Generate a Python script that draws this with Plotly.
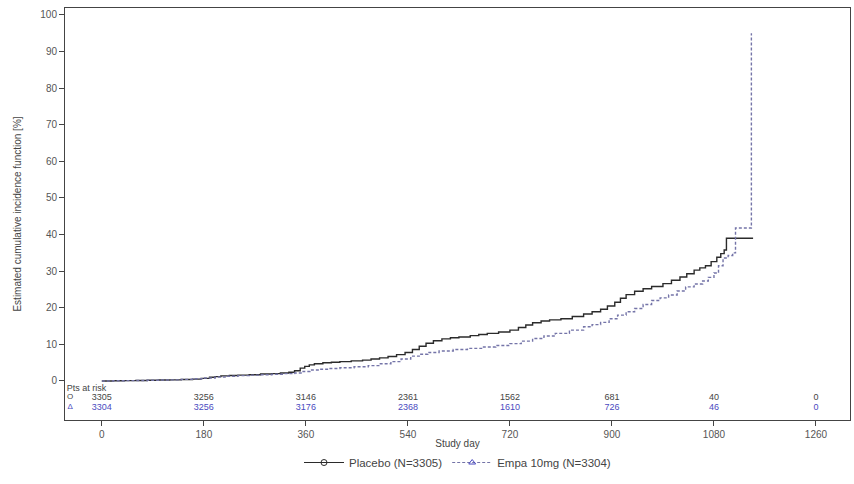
import plotly.graph_objects as go

# Placebo step curve (study day, cumulative incidence %)
placebo_day = [0, 20, 40, 60, 80, 100, 120, 140, 160, 175, 190, 200, 210, 225, 240, 260, 280, 300, 315, 330,
               340, 350, 358, 366, 375, 390, 405, 420, 440, 460, 475, 490, 505, 520, 535, 548, 560, 572, 585,
               600, 615, 630, 650, 665, 680, 700, 720, 735, 748, 760, 775, 790, 810, 830, 850, 865, 880, 892,
               905, 915, 925, 940, 955, 970, 990, 1005, 1020, 1032, 1045, 1055, 1065, 1075, 1085, 1092, 1098,
               1102, 1149]
placebo_pct = [0, 0.05, 0.1, 0.15, 0.2, 0.25, 0.3, 0.4, 0.5, 0.7, 1.0, 1.2, 1.4, 1.5, 1.6, 1.7, 1.9, 2.0, 2.2, 2.4,
               2.8, 3.5, 4.0, 4.4, 4.7, 5.0, 5.1, 5.3, 5.5, 5.7, 6.0, 6.3, 6.7, 7.2, 7.8, 8.6, 9.5, 10.3, 11.0,
               11.5, 11.8, 12.0, 12.4, 12.7, 13.0, 13.4, 13.9, 14.6, 15.3, 15.9, 16.4, 16.7, 17.0, 17.6, 18.3, 18.9, 19.6, 20.5,
               21.5, 22.6, 23.6, 24.5, 25.2, 25.8, 26.6, 27.5, 28.4, 29.3, 30.3, 30.9, 31.5, 32.6, 33.8, 34.8, 35.8,
               39.0, 39.0]

# Empa 10mg step curve
empa_day = [0, 20, 40, 60, 80, 100, 120, 140, 160, 180, 200, 220, 240, 260, 280, 300, 320, 340, 355, 367,
            385, 400, 420, 445, 470, 490, 510, 528, 545, 560, 575, 595, 620, 645, 672, 695, 720, 740, 760,
            780, 800, 825, 850, 865, 880, 895, 910, 925, 940, 955, 970, 985, 1000, 1015, 1030, 1045, 1060,
            1070, 1080, 1088, 1096, 1105, 1113, 1118, 1145, 1146]
empa_pct = [0, 0.05, 0.1, 0.15, 0.2, 0.25, 0.3, 0.45, 0.6, 0.8, 1.1, 1.3, 1.45, 1.6, 1.7, 1.85, 2.0, 2.2, 2.6, 3.0,
            3.2, 3.4, 3.6, 3.9, 4.2, 4.7, 5.3, 6.0, 6.8, 7.3, 7.8, 8.2, 8.6, 8.9, 9.3, 9.7, 10.2, 10.9, 11.6,
            12.3, 13.0, 13.9, 14.8, 15.4, 16.0, 17.0, 18.0, 18.9, 19.8, 20.9, 22.0, 22.7, 23.5, 24.6, 25.7, 26.5, 27.3,
            28.3, 29.5, 31.5, 33.6, 34.3, 35.0, 41.8, 41.8, 95.0]

# Patients at risk
risk_days = [0, 180, 360, 540, 720, 900, 1080, 1260]
risk_placebo = ["3305", "3256", "3146", "2361", "1562", "681", "40", "0"]
risk_empa = ["3304", "3256", "3176", "2368", "1610", "726", "46", "0"]

x_ticks = [0, 180, 360, 540, 720, 900, 1080, 1260]
y_ticks = [0, 10, 20, 30, 40, 50, 60, 70, 80, 90, 100]

BLACK = "#2b2b2b"
EMPA_LINE = "#7474a8"
EMPA_TEXT = "#4a4ac0"
FONT = "Liberation Sans, Arial, sans-serif"

fig = go.Figure()

fig.add_trace(go.Scatter(x=placebo_day, y=placebo_pct, mode="lines", line=dict(color=BLACK, width=1.4, shape="hv"),
                         showlegend=False, hoverinfo="skip"))
fig.add_trace(go.Scatter(x=empa_day, y=empa_pct, mode="lines",
                         line=dict(color=EMPA_LINE, width=1.4, shape="hv", dash="3px,2px"),
                         showlegend=False, hoverinfo="skip"))

# legend entries
fig.add_trace(go.Scatter(x=[None], y=[None], mode="lines+markers", name="Placebo (N=3305)",
                         line=dict(color=BLACK, width=1.2),
                         marker=dict(symbol="circle-open", size=6, color=BLACK)))
fig.add_trace(go.Scatter(x=[None], y=[None], mode="lines+markers", name="Empa 10mg (N=3304)",
                         line=dict(color=EMPA_LINE, width=1.2, dash="3px,2px"),
                         marker=dict(symbol="triangle-up-open", size=6, color=EMPA_TEXT)))

# At-risk table
fig.add_trace(go.Scatter(x=risk_days, y=[-4.5] * len(risk_days), mode="text", text=risk_placebo,
                         textfont=dict(color="#444444", size=9, family=FONT), showlegend=False, hoverinfo="skip"))
fig.add_trace(go.Scatter(x=risk_days, y=[-7.2] * len(risk_days), mode="text", text=risk_empa,
                         textfont=dict(color=EMPA_TEXT, size=9, family=FONT), showlegend=False, hoverinfo="skip"))
fig.add_trace(go.Scatter(x=[-56, -56], y=[-4.5, -7.2], mode="text", text=["O", "Δ"],
                         textfont=dict(color=["#444444", EMPA_TEXT], size=8, family=FONT),
                         showlegend=False, hoverinfo="skip"))
fig.add_trace(go.Scatter(x=[-62], y=[-2.1], mode="text", text=["Pts at risk"], textposition="middle right",
                         textfont=dict(color="#444444", size=9, family=FONT), showlegend=False, hoverinfo="skip"))

fig.update_layout(
    width=854, height=484,
    margin=dict(l=65, r=4, t=8, b=64),
    paper_bgcolor="white", plot_bgcolor="white",
    font=dict(family=FONT, size=10, color="#555555"),
    legend=dict(orientation="h", x=0.5, xanchor="center", y=-0.068, yanchor="top",
                font=dict(size=11.5, color="#444444"), itemwidth=40),
    showlegend=True,
)
fig.update_xaxes(range=[-65, 1320], tickvals=x_ticks, ticks="outside", ticklen=5, tickcolor="#444444",
                 showline=True, linecolor="#444444", linewidth=1, mirror=True, showgrid=False, zeroline=False,
                 automargin=False,
                 title=dict(text="Study day", font=dict(size=10, color="#444444"), standoff=0),
                 tickfont=dict(size=10, color="#555555"))
fig.update_yaxes(range=[-10.66, 101.9], tickvals=y_ticks, ticks="outside", ticklen=5, tickcolor="#444444",
                 showline=True, linecolor="#444444", linewidth=1, mirror=True, showgrid=False, zeroline=False,
                 automargin=False,
                 title=dict(text="Estimated cumulative incidence function [%]", font=dict(size=10, color="#444444"), standoff=16),
                 tickfont=dict(size=10, color="#555555"))

fig.write_html("out.html", config={"displayModeBar": False},
               post_script="document.body.style.margin='0';")
